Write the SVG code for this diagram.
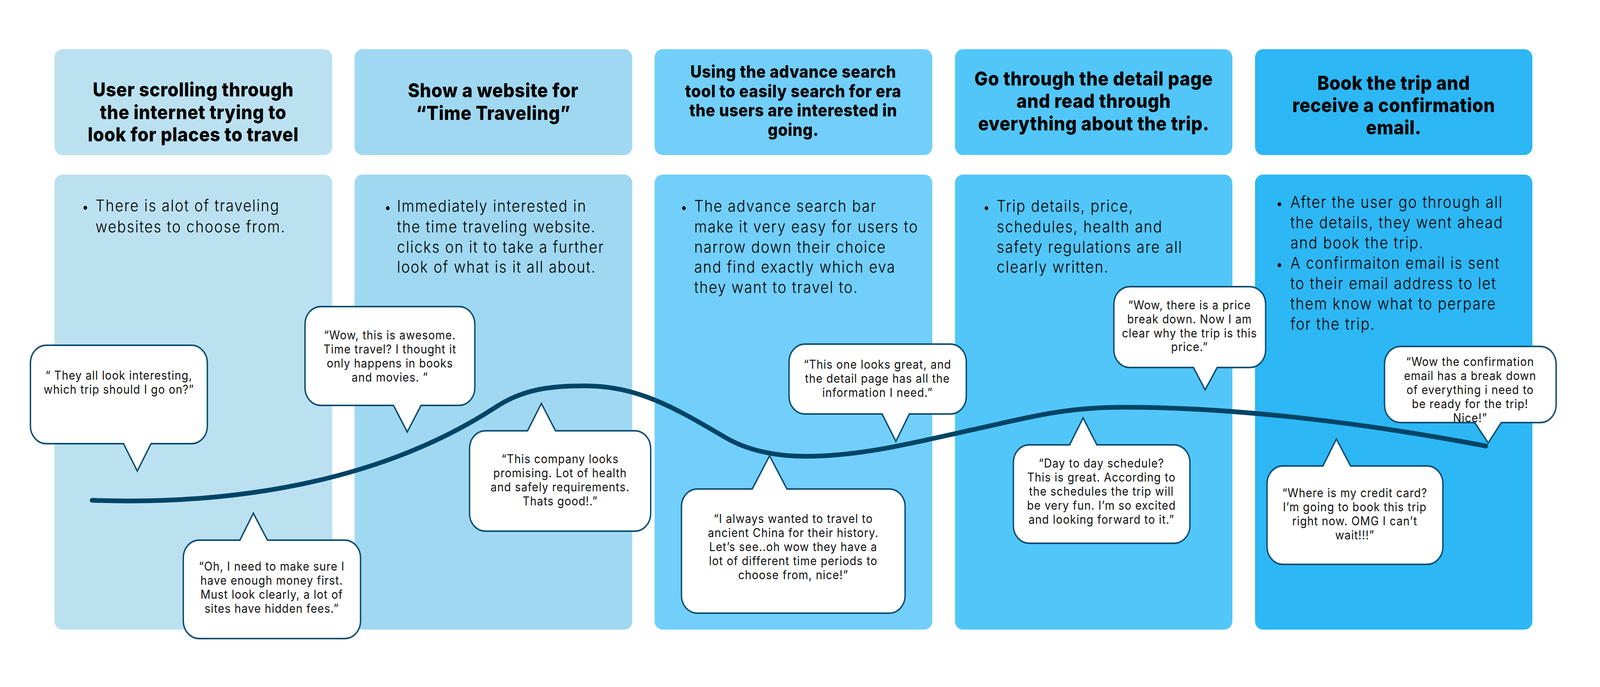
<svg xmlns="http://www.w3.org/2000/svg" width="4522" height="1759" viewBox="0 0 4522 1759" preserveAspectRatio="none">
<style>
svg:root{width:100vw;height:100vh}
.hd{font-family:Inter,"Liberation Sans",sans-serif;font-weight:800;font-size:50px;letter-spacing:0.8px;fill:#000;text-anchor:middle}
.hd3{font-size:44px}
.bd{font-family:Inter,"Liberation Sans",sans-serif;font-weight:350;font-size:41px;letter-spacing:2.4px;fill:#000}
.bt{font-family:Inter,"Liberation Sans",sans-serif;font-weight:400;font-size:32px;fill:#000}
.bq{font-family:Inter,"Liberation Sans",sans-serif;font-weight:400;font-size:31px;letter-spacing:1.3px;fill:#111;text-anchor:middle}
.bub{fill:#fff;stroke:#0d4d70;stroke-width:4;stroke-linejoin:miter}
.c1{fill:#bbe1f1}.c2{fill:#a0d8f1}.c3{fill:#72cffa}.c4{fill:#52c6f8}.c5{fill:#2db7f4}
</style>
<g id="stage1">
<rect class="c1" x="154" y="126" width="785" height="271" rx="22"/>
<rect class="c1" x="154" y="447" width="785" height="1165" rx="22"/>
<text class="hd"><tspan x="546" y="247">User scrolling through</tspan><tspan x="546" y="305">the internet trying to</tspan><tspan x="546" y="362">look for places to travel</tspan></text>
<text class="bt" x="232" y="541">•</text>
<text class="bd"><tspan x="270" y="541">There is alot of traveling</tspan><tspan x="270" y="595">websites to choose from.</tspan></text>
</g>
<g id="stage2">
<rect class="c2" x="1002" y="126" width="785" height="271" rx="22"/>
<rect class="c2" x="1002" y="447" width="785" height="1165" rx="22"/>
<text class="hd"><tspan x="1394" y="249">Show a website for</tspan><tspan x="1394" y="307">“Time Traveling”</tspan></text>
<text class="bt" x="1087" y="542">•</text>
<text class="bd"><tspan x="1122" y="542">Immediately interested in</tspan><tspan x="1122" y="595">the time traveling website.</tspan><tspan x="1122" y="647">clicks on it to take a further</tspan><tspan x="1122" y="698">look of what is it all about.</tspan></text>
</g>
<g id="stage3">
<rect class="c3" x="1850" y="126" width="785" height="271" rx="22"/>
<rect class="c3" x="1850" y="447" width="785" height="1165" rx="22"/>
<text class="hd hd3"><tspan x="2242" y="199">Using the advance search</tspan><tspan x="2242" y="249">tool to easily search for era</tspan><tspan x="2242" y="298">the users are interested in</tspan><tspan x="2242" y="348">going.</tspan></text>
<text class="bt" x="1924" y="542">•</text>
<text class="bd"><tspan x="1962" y="542">The advance search bar</tspan><tspan x="1962" y="595">make it very easy for users to</tspan><tspan x="1962" y="647">narrow down their choice</tspan><tspan x="1962" y="698">and find exactly which eva</tspan><tspan x="1962" y="750">they want to travel to.</tspan></text>
</g>
<g id="stage4">
<rect class="c4" x="2699" y="126" width="784" height="271" rx="22"/>
<rect class="c4" x="2699" y="447" width="784" height="1165" rx="22"/>
<text class="hd"><tspan x="3091" y="219">Go through the detail page</tspan><tspan x="3091" y="276">and read through</tspan><tspan x="3091" y="334">everything about the trip.</tspan></text>
<text class="bt" x="2779" y="542">•</text>
<text class="bd"><tspan x="2817" y="542">Trip details, price,</tspan><tspan x="2817" y="595">schedules, health and</tspan><tspan x="2817" y="647">safety regulations are all</tspan><tspan x="2817" y="698">clearly written.</tspan></text>
</g>
<g id="stage5">
<rect class="c5" x="3547" y="126" width="784" height="271" rx="22"/>
<rect class="c5" x="3547" y="447" width="784" height="1165" rx="22"/>
<text class="hd"><tspan x="3939" y="230">Book the trip and</tspan><tspan x="3939" y="287">receive a confirmation</tspan><tspan x="3939" y="344">email.</tspan></text>
<text class="bt"><tspan x="3607" y="532">•</tspan><tspan x="3607" y="688">•</tspan></text>
<text class="bd"><tspan x="3647" y="532">After the user go through all</tspan><tspan x="3647" y="584">the details, they went ahead</tspan><tspan x="3647" y="636">and book the trip.</tspan><tspan x="3647" y="688">A confirmaiton email is sent</tspan><tspan x="3647" y="740">to their email address to let</tspan><tspan x="3647" y="792">them know what to perpare</tspan><tspan x="3647" y="844">for the trip.</tspan></text>
</g>
<g id="connectors">
<path id="emotion-curve" d="M260 1281 C700 1295 1100 1220 1400 1043 C1480 995 1560 988 1651 988 C1800 988 1900 1040 2050 1120 C2130 1163 2230 1170 2298 1168 C2450 1165 2600 1130 2750 1100 C2900 1070 3000 1045 3150 1043 C3500 1040 3900 1090 4200 1142" fill="none" stroke="#004466" stroke-width="12" stroke-linecap="round"/>
</g>
<g id="bubble1">
<path class="bub" d="M131 884 H541 A45 45 0 0 1 586 929 V1091 A45 45 0 0 1 541 1136 H427 L388 1206 L349 1136 H131 A45 45 0 0 1 86 1091 V929 A45 45 0 0 1 131 884 Z"/>
<text class="bq"><tspan x="336" y="972">“ They all look interesting,</tspan><tspan x="336" y="1008">which trip should I go on?”</tspan></text>
</g>
<g id="bubble2">
<path class="bub" d="M563 1383 H678 L716 1314 L756 1383 H974 A45 45 0 0 1 1019 1428 V1590 A45 45 0 0 1 974 1635 H563 A45 45 0 0 1 518 1590 V1428 A45 45 0 0 1 563 1383 Z"/>
<text class="bq"><tspan x="768" y="1461">“Oh, I need to make sure I</tspan><tspan x="768" y="1497">have enough money first.</tspan><tspan x="768" y="1533">Must look clearly, a lot of</tspan><tspan x="768" y="1569">sites have hidden fees.”</tspan></text>
</g>
<g id="bubble3">
<path class="bub" d="M907 785 H1297 A45 45 0 0 1 1342 830 V993 A45 45 0 0 1 1297 1038 H1190 L1151 1106 L1112 1038 H907 A45 45 0 0 1 862 993 V830 A45 45 0 0 1 907 785 Z"/>
<text class="bq"><tspan x="1102" y="869">“Wow, this is awesome.</tspan><tspan x="1102" y="905">Time travel? I thought it</tspan><tspan x="1102" y="941">only happens in books</tspan><tspan x="1102" y="977">and movies. ”</tspan></text>
</g>
<g id="bubble4">
<path class="bub" d="M1372 1103 H1491 L1530 1033 L1570 1103 H1794 A45 45 0 0 1 1839 1148 V1315 A45 45 0 0 1 1794 1360 H1372 A45 45 0 0 1 1327 1315 V1148 A45 45 0 0 1 1372 1103 Z"/>
<text class="bq"><tspan x="1583" y="1186">“This company looks</tspan><tspan x="1583" y="1222">promising. Lot of health</tspan><tspan x="1583" y="1258">and safely requirements.</tspan><tspan x="1583" y="1294">Thats good!.”</tspan></text>
</g>
<g id="bubble5">
<path class="bub" d="M1971 1252 H2126 L2175 1167 L2224 1252 H2513 A45 45 0 0 1 2558 1297 V1525 A45 45 0 0 1 2513 1570 H1971 A45 45 0 0 1 1926 1525 V1297 A45 45 0 0 1 1971 1252 Z"/>
<text class="bq"><tspan x="2242" y="1339">“I always wanted to travel to</tspan><tspan x="2242" y="1375">ancient China for their history.</tspan><tspan x="2242" y="1411">Let’s see..oh wow they have a</tspan><tspan x="2242" y="1447">lot of different time periods to</tspan><tspan x="2242" y="1483">choose from, nice!”</tspan></text>
</g>
<g id="bubble6">
<path class="bub" d="M2275 881 H2686 A45 45 0 0 1 2731 926 V1015 A45 45 0 0 1 2686 1060 H2570 L2532 1130 L2493 1060 H2275 A45 45 0 0 1 2230 1015 V926 A45 45 0 0 1 2275 881 Z"/>
<text class="bq"><tspan x="2480" y="944">“This one looks great, and</tspan><tspan x="2480" y="980">the detail page has all the</tspan><tspan x="2480" y="1016">information I need.”</tspan></text>
</g>
<g id="bubble7">
<path class="bub" d="M2909 1139 H3023 L3061 1070 L3100 1139 H3318 A45 45 0 0 1 3363 1184 V1346 A45 45 0 0 1 3318 1391 H2909 A45 45 0 0 1 2864 1346 V1184 A45 45 0 0 1 2909 1139 Z"/>
<text class="bq"><tspan x="3113" y="1197">“Day to day schedule?</tspan><tspan x="3113" y="1233">This is great. According to</tspan><tspan x="3113" y="1269">the schedules the trip will</tspan><tspan x="3113" y="1305">be very fun. I’m so excited</tspan><tspan x="3113" y="1341">and looking forward to it.”</tspan></text>
</g>
<g id="bubble8">
<path class="bub" d="M3193 734 H3532 A45 45 0 0 1 3577 779 V896 A45 45 0 0 1 3532 941 H3440 L3406 998 L3373 941 H3193 A45 45 0 0 1 3148 896 V779 A45 45 0 0 1 3193 734 Z"/>
<text class="bq"><tspan x="3362" y="792">“Wow, there is a price</tspan><tspan x="3362" y="828">break down. Now I am</tspan><tspan x="3362" y="864">clear why the trip is this</tspan><tspan x="3362" y="899">price.”</tspan></text>
</g>
<g id="bubble9">
<path class="bub" d="M3958 887 H4353 A45 45 0 0 1 4398 932 V1037 A45 45 0 0 1 4353 1082 H4243 L4206 1134 L4168 1082 H3958 A45 45 0 0 1 3913 1037 V932 A45 45 0 0 1 3958 887 Z"/>
<text class="bq"><tspan x="4155" y="937">“Wow the confirmation</tspan><tspan x="4155" y="973">email has a break down</tspan><tspan x="4155" y="1009">of everything i need to</tspan><tspan x="4155" y="1045">be ready for the trip!</tspan><tspan x="4155" y="1081">Nice!”</tspan></text>
</g>
<g id="bubble10">
<path class="bub" d="M3626 1193 H3739 L3777 1124 L3817 1193 H4033 A45 45 0 0 1 4078 1238 V1400 A45 45 0 0 1 4033 1445 H3626 A45 45 0 0 1 3581 1400 V1238 A45 45 0 0 1 3626 1193 Z"/>
<text class="bq"><tspan x="3829" y="1273">“Where is my credit card?</tspan><tspan x="3829" y="1309">I’m going to book this trip</tspan><tspan x="3829" y="1345">right now. OMG I can’t</tspan><tspan x="3829" y="1381">wait!!!”</tspan></text>
</g>
</svg>
